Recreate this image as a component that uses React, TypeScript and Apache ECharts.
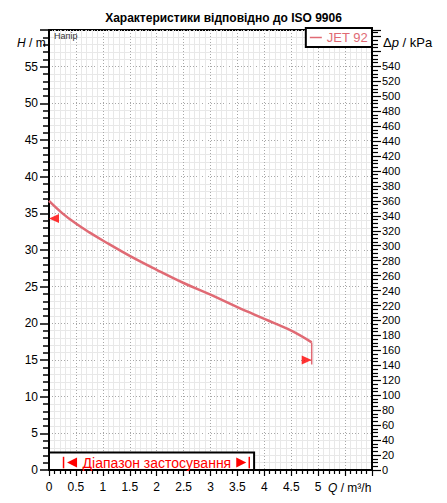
import React, { useEffect, useRef } from "react";
import * as echarts from "echarts";

const titleText = "Характеристики відповідно до ISO 9906";
const seriesName = "JET 92";
const flowQ = [0, 0.25, 0.5, 0.75, 1, 1.5, 2, 2.5, 3, 3.5, 4, 4.5, 4.88];
const headH = [36.7, 35.0, 33.6, 32.4, 31.3, 29.2, 27.3, 25.5, 23.9, 22.2, 20.6, 19.0, 17.4];
const dropQ = [4.88, 4.88];
const dropH = [17.4, 14.4];
const leftMarker = [0, 34.3];
const rightMarker = [4.88, 15.0];
const rangeBoxQ = [0, 3.81];
const rangeBoxH = [0, 2.4];
const rangeBarsQ = [0.27, 3.72];
const rangeBarsH = [0.23, 1.8];
const rangeLabel = "Діапазон застосування";
const xMax = 6;
const yMax = 60;
const kPaPerM = 9.81;

const FONT = "'Liberation Sans', Arial, sans-serif";
const CURVE = "#e06a74";

export default function App() {
  const ref = useRef<HTMLDivElement>(null);
  useEffect(() => {
    const chart = echarts.init(ref.current!, null, { renderer: "svg" });
    const option: any = {
      animation: false,
      backgroundColor: "#fff",
      textStyle: { fontFamily: FONT },
      title: {
        text: titleText,
        left: "center",
        top: 7,
        textStyle: { fontFamily: FONT, fontSize: 12, fontWeight: "bold", color: "#000" },
      },
      legend: {
        data: [seriesName],
        right: 75,
        top: 28,
        orient: "horizontal",
        backgroundColor: "#fff",
        borderColor: "#000",
        borderWidth: 2,
        borderRadius: 0,
        padding: [3, 4, 3, 4],
        itemWidth: 12,
        itemHeight: 1.5,
        icon: "rect",
        itemGap: 5,
        itemStyle: { color: CURVE },
        textStyle: { color: CURVE, fontSize: 13, fontFamily: FONT, padding: [0, 0, 0, 0] },
        z: 10,
      },
      grid: {
        left: 49,
        right: 75,
        top: 30,
        bottom: 33,
        show: true,
        borderColor: "#000",
        borderWidth: 2,
        backgroundColor: "#fff",
      },
      xAxis: {
        type: "value",
        min: 0,
        max: xMax,
        interval: 0.5,
        axisLine: { show: true, onZero: false, lineStyle: { color: "#000", width: 2 } },
        axisTick: { show: true, inside: false, length: 6, lineStyle: { color: "#000", width: 1.2 } },
        minorTick: { show: true, splitNumber: 5, length: 4, lineStyle: { color: "#000", width: 1.2 } },
        axisLabel: {
          color: "#000",
          fontSize: 12,
          fontFamily: FONT,
          margin: 11,
          formatter: (v: number) => (v > 5.01 ? "" : String(v)),
        },
        splitLine: { show: true, lineStyle: { color: "#a8a8a8", type: [1, 2], width: 1 } },
        minorSplitLine: { show: true, lineStyle: { color: "#e8e8e8", width: 1 } },
      },
      yAxis: [
        {
          type: "value",
          min: 0,
          max: yMax,
          interval: 5,
          position: "left",
          axisLine: { show: true, onZero: false, lineStyle: { color: "#000", width: 2 } },
          axisTick: { show: true, length: 9, lineStyle: { color: "#000", width: 1.5 } },
          minorTick: { show: true, splitNumber: 5, length: 6, lineStyle: { color: "#000", width: 1.5 } },
          axisLabel: {
            color: "#000",
            fontSize: 12,
            fontFamily: FONT,
            margin: 11,
            formatter: (v: number) => (v > 55.01 ? "" : String(v)),
          },
          splitLine: { show: true, lineStyle: { color: "#a8a8a8", type: [1, 2], width: 1 } },
          minorSplitLine: { show: true, lineStyle: { color: "#e8e8e8", width: 1 } },
        },
        {
          type: "value",
          min: 0,
          max: yMax * kPaPerM,
          interval: 20,
          position: "right",
          axisLine: { show: true, onZero: false, lineStyle: { color: "#000", width: 2 } },
          axisTick: { show: true, length: 9, lineStyle: { color: "#000", width: 1.2 } },
          minorTick: { show: true, splitNumber: 4, length: 6, lineStyle: { color: "#000", width: 1.2 } },
          axisLabel: {
            color: "#000",
            fontSize: 11,
            fontFamily: FONT,
            margin: 10,
            formatter: (v: number) => (v > 540.01 ? "" : String(v)),
          },
          splitLine: { show: false },
          minorSplitLine: { show: false },
        },
      ],
      graphic: [
        {
          type: "text",
          left: 17,
          top: 37,
          z: 100,
          zlevel: 1,
          style: {
            rich: {
              i: { fontStyle: "italic", fontSize: 12, fontFamily: FONT, fill: "#000" },
              n: { fontSize: 12, fontFamily: FONT, fill: "#000" },
            },
            text: "{i|H}{n| / m}",
          },
        },
        {
          type: "text",
          left: 383,
          top: 36,
          z: 100,
          style: {
            rich: {
              i: { fontStyle: "italic", fontSize: 13, fontFamily: FONT, fill: "#000" },
              n: { fontSize: 13, fontFamily: FONT, fill: "#000" },
            },
            text: "{n|Δ}{i|p}{n| / kPa}",
          },
        },
        {
          type: "text",
          left: 328,
          top: 482,
          z: 100,
          style: {
            rich: {
              i: { fontStyle: "italic", fontSize: 12, fontFamily: FONT, fill: "#000" },
              n: { fontSize: 12, fontFamily: FONT, fill: "#000" },
            },
            text: "{i|Q}{n| / m³/h}",
          },
        },
        {
          type: "text",
          left: 54,
          top: 31,
          z: 100,
          style: { text: "Напір", fontSize: 9, fontFamily: FONT, fill: "#333" },
        },
      ],
      series: [
        {
          name: seriesName,
          type: "line",
          smooth: 0.4,
          showSymbol: false,
          symbol: "none",
          data: flowQ.map((q, i) => [q, headH[i]]),
          lineStyle: { color: CURVE, width: 2.5 },
          itemStyle: { color: CURVE },
          z: 3,
        },
        {
          name: "drop",
          type: "line",
          showSymbol: false,
          symbol: "none",
          data: dropQ.map((q, i) => [q, dropH[i]]),
          lineStyle: { color: CURVE, width: 1.5 },
          z: 3,
        },
        {
          name: "markers",
          type: "scatter",
          symbol: "triangle",
          symbolSize: [9, 10],
          data: [
            { value: leftMarker, symbolRotate: 90, symbolOffset: [5, 0] },
            { value: rightMarker, symbolRotate: -90, symbolOffset: [-5, 0] },
          ],
          itemStyle: { color: "#ff0000" },
          z: 4,
        },
        {
          name: "range",
          type: "custom",
          z: 6,
          data: [[rangeBoxQ[0], rangeBoxH[0], rangeBoxQ[1], rangeBoxH[1]]],
          renderItem: (params: any, api: any) => {
            const p0 = api.coord([rangeBoxQ[0], rangeBoxH[0]]);
            const p1 = api.coord([rangeBoxQ[1], rangeBoxH[1]]);
            const b0a = api.coord([rangeBarsQ[0], rangeBarsH[0]]);
            const b0b = api.coord([rangeBarsQ[0], rangeBarsH[1]]);
            const b1a = api.coord([rangeBarsQ[1], rangeBarsH[0]]);
            const b1b = api.coord([rangeBarsQ[1], rangeBarsH[1]]);
            const cy = (b0a[1] + b0b[1]) / 2;
            const lx = b0a[0];
            const rx = b1a[0];
            return {
              type: "group",
              children: [
                {
                  type: "rect",
                  shape: { x: p0[0], y: p1[1], width: p1[0] - p0[0], height: p0[1] - p1[1] },
                  style: { fill: "#fff", stroke: "#000", lineWidth: 2 },
                },
                {
                  type: "line",
                  shape: { x1: b0a[0], y1: b0a[1], x2: b0b[0], y2: b0b[1] },
                  style: { stroke: "#ff0000", lineWidth: 1.5 },
                },
                {
                  type: "line",
                  shape: { x1: b1a[0], y1: b1a[1], x2: b1b[0], y2: b1b[1] },
                  style: { stroke: "#ff0000", lineWidth: 1.5 },
                },
                {
                  type: "polygon",
                  shape: { points: [[lx + 3.5, cy], [lx + 13.5, cy - 5], [lx + 13.5, cy + 5]] },
                  style: { fill: "#ff0000" },
                },
                {
                  type: "polygon",
                  shape: { points: [[rx - 3, cy], [rx - 13, cy - 5], [rx - 13, cy + 5]] },
                  style: { fill: "#ff0000" },
                },
                {
                  type: "text",
                  style: {
                    text: rangeLabel,
                    x: (lx + rx) / 2 + 0.5,
                    y: cy,
                    align: "center",
                    verticalAlign: "middle",
                    fill: "#ff0000",
                    fontSize: 14,
                    fontFamily: FONT,
                  },
                },
              ],
            };
          },
        },
      ],
    };
    chart.setOption(option);
    return () => chart.dispose();
  }, []);
  return (
    <div
      ref={ref}
      style={{ position: "fixed", left: 0, top: 0, width: 447, height: 503, background: "#fff" }}
    />
  );
}
